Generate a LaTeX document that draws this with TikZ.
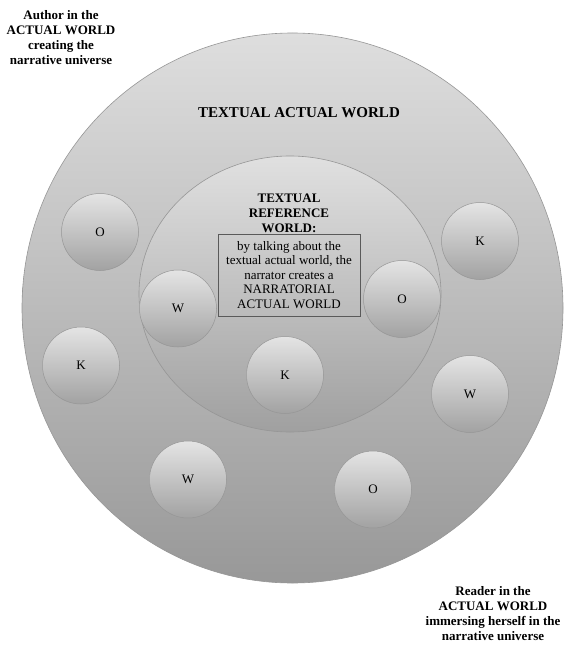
\documentclass[tikz,border=0pt]{standalone}
\usepackage{fontspec}
\setmainfont{Liberation Serif}
\usetikzlibrary{shapes.geometric}
\definecolor{outertop}{RGB}{222,222,222}
\definecolor{outerbot}{RGB}{152,152,152}
\definecolor{innertop}{RGB}{224,224,224}
\definecolor{innerbot}{RGB}{160,160,160}
\definecolor{balltop}{RGB}{228,228,228}
\definecolor{ballbot}{RGB}{162,162,162}
\definecolor{rimgray}{RGB}{150,150,150}
\definecolor{boxgray}{RGB}{90,90,90}

\begin{document}
\begin{tikzpicture}[x=1pt,y=1pt,
  world/.style={ellipse, draw=rimgray, line width=0.6pt, inner sep=0pt},
  ball/.style={circle, draw=rimgray, line width=0.5pt, inner sep=0pt,
    minimum size=77pt, top color=balltop, bottom color=ballbot,
    font=\fontsize{13}{15}\selectfont},
  caption/.style={align=center, font=\bfseries\fontsize{13}{15}\selectfont}]
\useasboundingbox (0,0) rectangle (564,-647);

% the two worlds
\node[world, minimum width=541pt, minimum height=550pt,
  top color=outertop, bottom color=outerbot] (taw) at (292.5,-308) {};
\node[world, minimum width=302pt, minimum height=276pt,
  top color=innertop, bottom color=innerbot] (trw) at (290,-294) {};

\node[font=\bfseries\fontsize{15}{17}\selectfont] (tawtitle) at (299,-113)
  {TEXTUAL ACTUAL WORLD};
\node[caption] (trwtitle) at (289,-213) {TEXTUAL\\REFERENCE\\WORLD:};
\node[draw=boxgray, line width=0.7pt, minimum width=142pt, minimum height=82pt,
  align=center, font=\fontsize{13}{14.5}\selectfont] (naw) at (289,-275)
  {by talking about the\\textual actual world, the\\narrator creates a\\NARRATORIAL\\ACTUAL WORLD};

% possible worlds
\foreach \n/\x/\y/\t in {oa/100/232/O, ka/81/365.5/K, wa/178/308.5/W,
    kb/285/375/K, ob/402/299/O, kc/480/241/K, wb/470/394/W,
    wc/188/479.5/W, oc/373/489.5/O}{
  \node[ball] (\n) at (\x,-\y) {\t};
}

\node[caption] (author) at (61,-38)
  {Author in the\\ACTUAL WORLD\\creating the\\narrative universe};
\node[caption] (reader) at (493,-614)
  {Reader in the\\ACTUAL WORLD\\immersing herself in the\\narrative universe};

\end{tikzpicture}
\end{document}
